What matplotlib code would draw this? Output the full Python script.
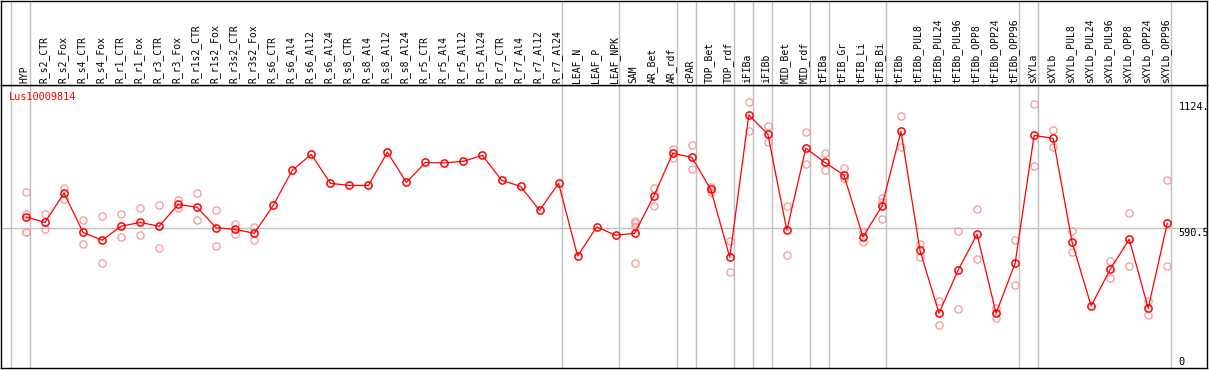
import matplotlib
matplotlib.use("Agg")
import matplotlib.pyplot as plt
import numpy as np

gene = "Lus10009814"

samples = ["HYP", "R_s2_CTR", "R_s2_Fox", "R_s4_CTR", "R_s4_Fox", "R_r1_CTR", "R_r1_Fox",
           "R_r3_CTR", "R_r3_Fox", "R_r1s2_CTR", "R_r1s2_Fox", "R_r3s2_CTR", "R_r3s2_Fox",
           "R_s6_CTR", "R_s6_Al4", "R_s6_Al12", "R_s6_Al24", "R_s8_CTR", "R_s8_Al4",
           "R_s8_Al12", "R_s8_Al24", "R_r5_CTR", "R_r5_Al4", "R_r5_Al12", "R_r5_Al24",
           "R_r7_CTR", "R_r7_Al4", "R_r7_Al12", "R_r7_Al24", "LEAF_N", "LEAF_P", "LEAF_NPK",
           "SAM", "AR_Bet", "AR_rdf", "cPAR", "TOP_Bet", "TOP_rdf", "iFIBa", "iFIBb",
           "MID_Bet", "MID_rdf", "tFIBa", "tFIB_Gr", "tFIB_Li", "tFIB_Bi", "tFIBb",
           "tFIBb_PUL8", "tFIBb_PUL24", "tFIBb_PUL96", "tFIBb_OPP8", "tFIBb_OPP24",
           "tFIBb_OPP96", "sXYLa", "sXYLb", "sXYLb_PUL8", "sXYLb_PUL24", "sXYLb_PUL96",
           "sXYLb_OPP8", "sXYLb_OPP24", "sXYLb_OPP96"]

# mean expression per sample
means = [637, 614, 738, 572, 539, 598, 614, 598, 690, 678, 591, 585, 568,
         686, 834, 901, 779, 770, 770, 910, 783, 867, 865, 872, 897,
         792, 766, 665, 779, 472, 595, 560,
         568, 724, 905, 889, 754, 467, 1067, 987,
         581, 927, 867, 814, 553, 683, 998,
         496, 231, 412, 564, 231, 441,
         981, 969, 530, 262, 416, 543, 252, 610]

# replicate values (empty list = single value)
reps = [[741, 650, 575, 575], [648, 585], [759, 713], [623, 523], [640, 441], [648, 551],
        [673, 560], [686, 505], [707, 673], [737, 623], [665, 513], [606, 564], [593, 539],
        [], [], [], [], [], [], [], [], [], [], [], [], [], [], [], [], [], [], [],
        [621, 610, 599, 443], [758, 685], [924, 884], [941, 838], [765, 742], [536, 404],
        [1124, 998], [1019, 955], [682, 475], [994, 859], [905, 834], [842, 800, 800],
        [572, 533], [716, 702, 627], [1062, 934],
        [523, 470], [283, 180], [576, 249], [669, 458], [252, 209], [539, 349],
        [1114, 851], [1004, 931], [576, 488], [], [450, 378], [652, 429], [281, 222],
        [792, 429]]

# group separators sit just after these sample indices
group_ends = [-1, 0, 28, 31, 34, 35, 37, 38, 39, 41, 42, 45, 52, 53, 60]

x = np.arange(len(samples))
W, H = 1209, 370
fig = plt.figure(figsize=(W / 100, H / 100), dpi=100)

left = 1 / W
width = 1206 / W
ax = fig.add_axes([left, (H - 368) / H, width, 283 / H])
hd = fig.add_axes([left, (H - 85) / H, width, 84.5 / H], sharex=ax)

xlim = (-1.314, 62.09)
ymax = 1193.7
ax.set_xlim(*xlim)
ax.set_ylim(0, ymax)
hd.set_ylim(0, 1)

for a in (ax, hd):
    a.set_xticks([])
    a.set_yticks([])
    for s in a.spines.values():
        s.set_color("black")
        s.set_linewidth(1.0)
    for g in group_ends:
        a.axvline(g + 0.2, color="#c0c0c0", lw=1.0, zorder=0)

ax.axhline(590.5, color="#c0c0c0", lw=1.0, zorder=0)

# replicates
for i, r in enumerate(reps):
    if r:
        ax.plot([i] * len(r), r, "o", ms=5.2, mfc="none", mec="#f29a9a", mew=0.9, zorder=2)

ax.plot(x, means, "-", color="red", lw=0.9, zorder=3)
ax.plot(x, means, "o", ms=5.2, mfc="none", mec="red", mew=1.1, zorder=4)

# sample labels in the header
for i, name in enumerate(samples):
    hd.text(i - 0.08, 0.02, name, rotation=90, ha="center", va="bottom",
            family="DejaVu Sans Mono", fontsize=7)

ax.text(0.0068, 1 - 12 / 283, gene, transform=ax.transAxes, color="red",
        family="DejaVu Sans Mono", fontsize=7.4, ha="left", va="center")

# value labels on the right
for val, lab in [(1102, "1124."), (571, "590.5"), (27, "0")]:
    ax.text(0.9765, val, lab, transform=ax.get_yaxis_transform(), ha="left", va="center",
            family="DejaVu Sans Mono", fontsize=7.4)

fig.savefig("out.png", dpi=100)
